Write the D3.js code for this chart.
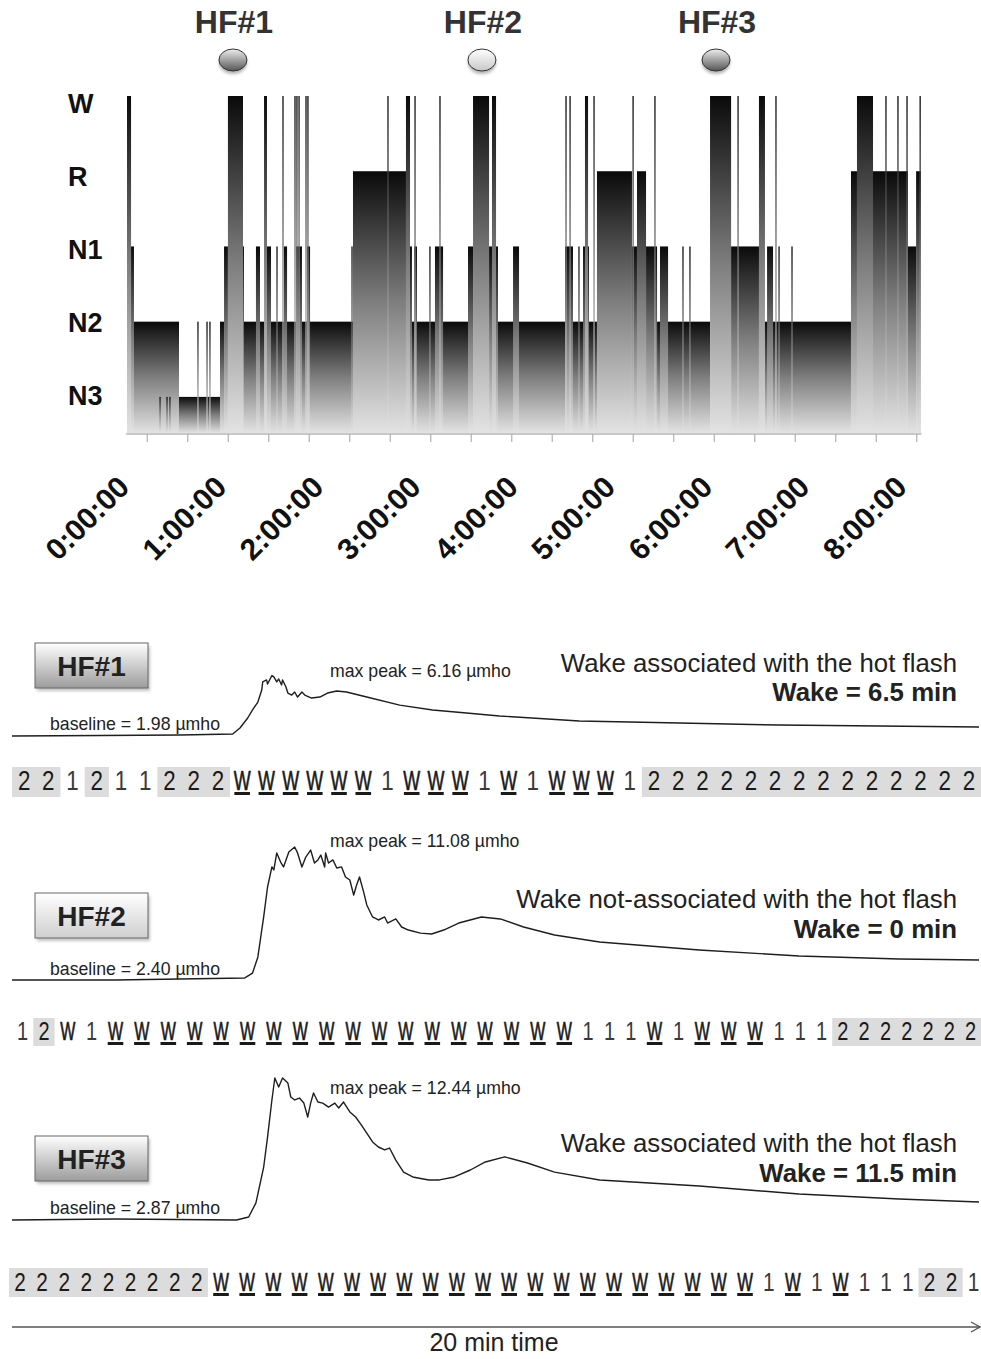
<!DOCTYPE html>
<html><head><meta charset="utf-8">
<script src="https://cdn.jsdelivr.net/npm/d3@7"></script>
<style>body{margin:0;background:#fff}svg{display:block}text{font-family:"Liberation Sans",Arial,Helvetica,sans-serif}</style>
</head><body><svg id="c" width="981" height="1359"></svg>
<script>
// ---------------- DATA ----------------
const stageNames = ["W", "R", "N1", "N2", "N3"];
const stageLevel = {W: 5, R: 4, N1: 3, N2: 2, N3: 1};
const hourLabels = ["0:00:00","1:00:00","2:00:00","3:00:00","4:00:00","5:00:00","6:00:00","7:00:00","8:00:00"];
const hourMinutes = [0, 60, 120, 180, 240, 300, 360, 420, 480];
const tickMinutes = [12.5,37.5,62.5,87.5,112.5,137.5,162.5,187.5,212.5,237.5,262.5,287.5,312.5,337.5,362.5,387.5,412.5,437.5,462.5,487.5];
// hypnogram base segments [start min, end min, stage]
const hypnoBase = [
  [0,2.5,"W"],[2.5,4.3,"N1"],[4.3,32.1,"N2"],[32.1,57.4,"N3"],[57.4,59.9,"N2"],[59.9,62.3,"N1"],
  [62.3,71.6,"W"],[71.6,72.2,"N1"],[72.2,139.5,"N2"],[139.5,172.2,"R"],[172.2,175.9,"N1"],
  [175.9,210.5,"N2"],[210.5,213.6,"N1"],[213.6,223.5,"W"],[223.5,229.0,"N1"],[229.0,270.4,"N2"],
  [270.4,275.3,"N1"],[275.3,290.1,"N2"],[290.1,311.7,"R"],[311.7,314.8,"N1"],[314.8,320.4,"R"],
  [320.4,327.2,"N1"],[327.2,359.9,"N2"],[359.9,372.9,"W"],[372.9,390.1,"N1"],[390.1,393.8,"W"],
  [393.8,446.9,"N2"],[446.9,450.6,"R"],[450.6,460.5,"W"],[460.5,482.1,"R"],[482.1,487.1,"N1"],[487.1,490.1,"R"]
];
// short overlaid episodes [start, end, stage]
const hypnoBlocks = [
  [79.6,82.1,"N1"],[86.4,88.9,"N1"],[84.6,86.4,"W"],[96.9,98.8,"N1"],[104.3,108.0,"N1"],[111.1,113.0,"N1"],
  [172.2,174.7,"W"],[177.3,179.0,"N1"],[190.1,195.1,"N1"],[225.3,227.8,"W"],[238.3,242.0,"N1"],
  [281.5,285.2,"N1"],[282.7,284.6,"W"],[329.0,334.0,"N1"],[395.1,398.8,"N1"]
];
// single-epoch spikes [time min, stage]
const hypnoSpikes = [
  [20.4,"N3"],[24.7,"N3"],[26.5,"N3"],[43.8,"N2"],[49.4,"N2"],[51.2,"N2"],
  [92.6,"N1"],[138.9,"N1"],[187.0,"N1"],[279.0,"N1"],[343.2,"N1"],[347.5,"N1"],[402.5,"N1"],[410.5,"N1"],
  [96.3,"W"],[103.7,"W"],[104.9,"W"],[106.2,"W"],[110.5,"W"],[111.7,"W"],[161.1,"W"],[177.8,"W"],
  [193.2,"W"],[271.0,"W"],[273.5,"W"],[288.3,"W"],[312.4,"W"],[325.9,"W"],[377.2,"W"],[400.6,"W"],
  [468.5,"W"],[475.9,"W"],[481.5,"W"],[489.6,"W"]
];
const hfLabels = ["HF#1", "HF#2", "HF#3"];
const hfMinutes = [65.4, 219.1, 363.6];
const hfShade = ["dark", "light", "dark"];

// skin conductance traces [time in 20-min window (min), µmho]
const trace1 = [[0,1.95],[1.82,1.98],[3.47,2.01],[4.56,2.08],[4.71,2.50],[4.87,3.20],[4.97,3.76],[5.08,4.31],[5.16,5.15],[5.18,5.71],[5.26,5.85],[5.28,5.57],[5.37,6.16],[5.41,6.06],[5.47,5.71],[5.51,5.92],[5.57,5.50],[5.59,5.85],[5.66,5.36],[5.70,4.94],[5.78,4.80],[5.84,5.01],[5.90,4.66],[5.99,5.01],[6.05,4.80],[6.19,4.59],[6.36,4.66],[6.52,4.94],[6.71,5.08],[6.91,5.01],[7.33,4.66],[8.01,4.10],[8.69,3.76],[9.39,3.55],[10.07,3.34],[11.72,2.99],[13.79,2.85],[15.85,2.71],[17.92,2.64],[19.98,2.57]];
const trace2 = [[0,2.33],[2.13,2.33],[4.81,2.47],[4.97,2.79],[5.08,3.85],[5.20,6.48],[5.28,8.45],[5.37,9.77],[5.41,9.57],[5.47,10.69],[5.55,10.09],[5.61,9.77],[5.72,10.75],[5.84,11.08],[5.90,10.69],[5.99,9.77],[6.07,10.42],[6.17,10.88],[6.25,10.03],[6.32,10.23],[6.38,10.55],[6.46,9.77],[6.48,10.69],[6.54,10.03],[6.63,10.23],[6.71,9.70],[6.81,9.77],[6.89,9.11],[6.98,8.91],[7.06,7.92],[7.12,8.58],[7.18,9.11],[7.27,8.06],[7.33,7.27],[7.45,6.48],[7.57,6.28],[7.70,6.48],[7.76,6.08],[7.93,6.35],[8.05,5.82],[8.19,5.62],[8.44,5.42],[8.67,5.36],[8.92,5.62],[9.23,6.08],[9.70,6.48],[10.09,6.35],[10.57,5.82],[11.21,5.29],[12.14,4.83],[14.20,4.31],[16.26,3.91],[18.33,3.72],[19.98,3.65]];
const trace3 = [[0,2.87],[2.13,2.94],[4.64,2.87],[4.89,3.07],[5.04,4.02],[5.20,6.44],[5.28,8.46],[5.37,10.96],[5.43,12.44],[5.51,11.83],[5.59,12.44],[5.70,12.10],[5.76,11.16],[5.84,10.96],[5.94,11.09],[6.03,10.75],[6.11,9.81],[6.17,10.75],[6.23,11.43],[6.32,10.82],[6.42,10.75],[6.54,10.48],[6.67,10.75],[6.75,10.42],[6.85,10.82],[6.98,10.15],[7.10,9.81],[7.22,9.27],[7.33,8.73],[7.45,8.13],[7.57,7.79],[7.70,7.59],[7.80,7.72],[7.93,6.91],[8.09,6.10],[8.28,5.77],[8.61,5.57],[8.83,5.57],[9.14,5.77],[9.47,6.24],[9.78,6.78],[10.18,7.12],[10.65,6.71],[11.21,6.10],[12.14,5.57],[14.20,5.16],[16.26,4.62],[18.33,4.29],[19.98,4.08]];
const baselines = [1.98, 2.40, 2.87];
const maxPeaks = [6.16, 11.08, 12.44];
const panelNotes = ["Wake associated with the hot flash", "Wake not-associated with the hot flash", "Wake associated with the hot flash"];
const wakeText = ["Wake = 6.5 min", "Wake = 0 min", "Wake = 11.5 min"];
// 30-s epoch scores in the 20-min window
const stages1 = "2 2 1 2 1 1 2 2 2 W W W W W W 1 W W W 1 W 1 W W W 1 2 2 2 2 2 2 2 2 2 2 2 2 2 2".split(" ");
const stages2 = "1 2 W 1 W W W W W W W W W W W W W W W W W W 1 1 1 W 1 W W W 1 1 1 2 2 2 2 2 2 2".split(" ");
const stages3 = "2 2 2 2 2 2 2 2 2 W W W W W W W W W W W W W W W W W W W W W 1 W 1 W 1 1 1 2 2 1".split(" ");
const notUnderlined2 = [2];

// ---------------- DRAW ----------------
const svg = d3.select("#c");
const defs = svg.append("defs");
function vgrad(id, stops) {
  const g = defs.append("linearGradient").attr("id", id).attr("x1", 0).attr("y1", 0).attr("x2", 0).attr("y2", 1);
  stops.forEach(s => g.append("stop").attr("offset", s[0]).attr("stop-color", s[1]));
}
vgrad("barG", [[0, "#0a0a0a"], [0.5, "#7e7e7e"], [1, "#e3e3e3"]]);
vgrad("dotDark", [[0, "#eeeeee"], [1, "#555555"]]);
vgrad("dotLight", [[0, "#ffffff"], [1, "#c8c8c8"]]);
vgrad("boxDark", [[0, "#ffffff"], [1, "#9c9c9c"]]);
vgrad("boxLight", [[0, "#ffffff"], [1, "#cfcfcf"]]);
const blur = defs.append("filter").attr("id", "sh").attr("x", "-30%").attr("y", "-30%").attr("width", "160%").attr("height", "180%");
blur.append("feGaussianBlur").attr("stdDeviation", 1.6);

// hypnogram scales
const x = d3.scaleLinear().domain([0, 480]).range([127, 904.6]);
const y = d3.scaleLinear().domain([0.52, 5]).range([433, 96]);
const yBottom = y(0.52);
const gH = svg.append("g");

function drawSegs(list, cls) {
  gH.selectAll("rect." + cls).data(list).join("rect").attr("class", cls)
    .attr("x", d => x(d[0])).attr("width", d => Math.max(0.8, x(d[1]) - x(d[0])))
    .attr("y", d => y(stageLevel[d[2]])).attr("height", d => yBottom - y(stageLevel[d[2]]))
    .attr("fill", "url(#barG)");
}
drawSegs(hypnoBase, "base");
drawSegs(hypnoBlocks, "blk");
drawSegs(hypnoSpikes.map(d => [d[0] - 0.4, d[0] + 0.4, d[1]]), "spk");

// x axis
const axisG = svg.append("g").attr("transform", `translate(0,${yBottom + 1})`);
axisG.append("line").attr("x1", x(-0.6)).attr("x2", x(490.4)).attr("stroke", "#b5b5b5").attr("stroke-width", 1.5);
axisG.selectAll("line.tk").data(tickMinutes).join("line").attr("class", "tk")
  .attr("x1", d => x(d)).attr("x2", d => x(d)).attr("y1", 0).attr("y2", 8).attr("stroke", "#b0b0b0").attr("stroke-width", 1.2);
svg.selectAll("text.hr").data(hourMinutes).join("text").attr("class", "hr")
  .attr("transform", d => `translate(${x(d) + 4},489) rotate(-45)`)
  .attr("text-anchor", "end").attr("font-size", 30).attr("font-weight", "bold").attr("fill", "#111")
  .text((d, i) => hourLabels[i]);

// y labels
const yl = d3.scalePoint().domain(stageNames).range([103, 395]);
svg.selectAll("text.yl").data(stageNames).join("text").attr("class", "yl")
  .attr("x", 68).attr("y", d => yl(d)).attr("dy", "0.36em")
  .attr("font-size", 27).attr("font-weight", "bold").attr("fill", "#111").text(d => d);

// HF markers
hfMinutes.forEach((t, i) => {
  const cx = x(t);
  svg.append("ellipse").attr("cx", cx).attr("cy", 63).attr("rx", 14).attr("ry", 11).attr("fill", "#777").attr("opacity", 0.55).attr("filter", "url(#sh)");
  svg.append("ellipse").attr("cx", cx).attr("cy", 60).attr("rx", 14).attr("ry", 11)
    .attr("fill", hfShade[i] === "dark" ? "url(#dotDark)" : "url(#dotLight)").attr("stroke", "#333").attr("stroke-width", 1);
  svg.append("text").attr("x", cx + 1).attr("y", 33).attr("text-anchor", "middle")
    .attr("font-size", 32).attr("font-weight", "bold").attr("fill", "#333").text(hfLabels[i]);
});

// ---------------- PANELS ----------------
const tx = d3.scaleLinear().domain([0, 20]).range([12, 980]);
const panels = [
  {trace: trace1, baseY: 735.5, peakY: 675.5, boxY: 643, baseTxt: 730, peakTxt: 677, noteY: 672, wakeY: 701, shade: "boxDark"},
  {trace: trace2, baseY: 979, peakY: 847, boxY: 893, baseTxt: 975, peakTxt: 847, noteY: 908, wakeY: 938, shade: "boxLight"},
  {trace: trace3, baseY: 1220, peakY: 1078, boxY: 1136, baseTxt: 1214, peakTxt: 1094, noteY: 1152, wakeY: 1182, shade: "boxDark"}
];
panels.forEach((p, i) => {
  const yv = d3.scaleLinear().domain([baselines[i], maxPeaks[i]]).range([p.baseY, p.peakY]);
  const line = d3.line().x(d => tx(d[0])).y(d => yv(d[1]));
  svg.append("path").attr("d", line(p.trace)).attr("fill", "none").attr("stroke", "#1e1e1e").attr("stroke-width", 1.4).attr("stroke-linejoin", "round");
  // label box
  svg.append("rect").attr("x", 37).attr("y", p.boxY + 3).attr("width", 113).attr("height", 45).attr("fill", "#888").attr("opacity", 0.5).attr("filter", "url(#sh)");
  svg.append("rect").attr("x", 35).attr("y", p.boxY).attr("width", 113).attr("height", 45)
    .attr("fill", `url(#${p.shade})`).attr("stroke", "#666").attr("stroke-width", 1);
  svg.append("text").attr("x", 91.5).attr("y", p.boxY + 33).attr("text-anchor", "middle")
    .attr("font-size", 28).attr("font-weight", "bold").attr("fill", "#222").text(hfLabels[i]);
  svg.append("text").attr("x", 50).attr("y", p.baseTxt).attr("font-size", 17.7).attr("fill", "#222")
    .text(`baseline = ${baselines[i].toFixed(2)} µmho`);
  svg.append("text").attr("x", 330).attr("y", p.peakTxt).attr("font-size", 17.7).attr("fill", "#222")
    .text(`max peak = ${maxPeaks[i].toFixed(2)} µmho`);
  svg.append("text").attr("x", 957).attr("y", p.noteY).attr("text-anchor", "end").attr("font-size", 25.8).attr("fill", "#222").text(panelNotes[i]);
  svg.append("text").attr("x", 957).attr("y", p.wakeY).attr("text-anchor", "end").attr("font-size", 25.8).attr("font-weight", "bold").attr("fill", "#222").text(wakeText[i]);
});

// ---------------- EPOCH ROWS ----------------
const rows = [
  {chars: stages1, start: 12, adv: c => 24.225, boxY: 767, boxH: 30, base: 790, fs: 28, noUL: []},
  {chars: stages2, start: 12, adv: c => (c === "W" ? 26.4 : 21.3), boxY: 1018, boxH: 28, base: 1040, fs: 25, noUL: notUnderlined2},
  {chars: stages3, start: 9, adv: c => (c === "W" ? 26.2 : c === "2" ? 22.1 : 21.6), boxY: 1268, boxH: 29, base: 1291, fs: 26, noUL: []}
];
rows.forEach(r => {
  let xx = r.start;
  const cells = r.chars.map((c, i) => { const w = r.adv(c); const o = {c, i, x0: xx, x1: xx + w, cx: xx + w / 2}; xx += w; return o; });
  // gray runs for N2 epochs
  const runs = [];
  cells.forEach(cell => {
    if (cell.c === "2") {
      const last = runs[runs.length - 1];
      if (last && last.end === cell.i - 1) { last.end = cell.i; last.x1 = cell.x1; }
      else runs.push({start: cell.i, end: cell.i, x0: cell.x0, x1: cell.x1});
    }
  });
  const g = svg.append("g");
  g.selectAll("rect.run").data(runs).join("rect").attr("class", "run")
    .attr("x", d => d.x0).attr("width", d => d.x1 - d.x0).attr("y", r.boxY).attr("height", r.boxH).attr("fill", "#dcdcdc");
  g.selectAll("text.ch").data(cells).join("text").attr("class", "ch")
    .attr("transform", d => `translate(${d.cx},${r.base}) scale(${d.c === "W" ? 0.64 : 0.8},1)`)
    .attr("text-anchor", "middle").attr("font-size", r.fs)
    .attr("fill", d => d.c === "1" ? "#3a3a3a" : "#1a1a1a")
    .attr("stroke", d => d.c === "W" ? "#1a1a1a" : "none").attr("stroke-width", 0.7)
    .text(d => d.c);
  g.selectAll("rect.ul").data(cells.filter(d => d.c === "W" && !r.noUL.includes(d.i))).join("rect").attr("class", "ul")
    .attr("x", d => d.cx - 7.8).attr("width", 15.6).attr("y", r.base + 2).attr("height", 3).attr("fill", "#1a1a1a");
});

// time arrow
svg.append("line").attr("x1", tx(0)).attr("x2", tx(20)).attr("y1", 1327).attr("y2", 1327).attr("stroke", "#555").attr("stroke-width", 1.3);
svg.append("path").attr("d", `M${tx(20) - 9},1322 L${tx(20)},1327 L${tx(20) - 9},1332`).attr("fill", "none").attr("stroke", "#555").attr("stroke-width", 1.3);
svg.append("text").attr("x", 494).attr("y", 1351).attr("text-anchor", "middle").attr("font-size", 25).attr("fill", "#222").text("20 min time");
</script></body></html>
